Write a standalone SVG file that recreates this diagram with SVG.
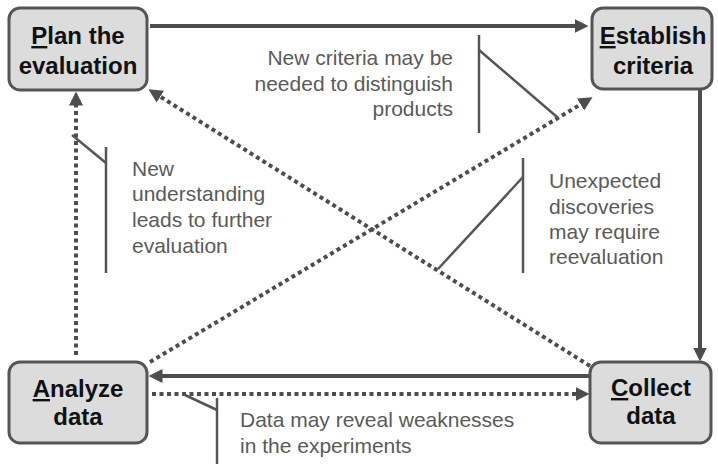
<svg xmlns="http://www.w3.org/2000/svg" width="718" height="464" viewBox="0 0 718 464">
<defs>
<style>
.box{fill:#dcdcdc;stroke:#555;stroke-width:3}
.nt{font-family:"Liberation Sans",Arial,sans-serif;font-weight:bold;font-size:24px;fill:#111;text-anchor:middle}
.u{text-decoration:underline}
.solid{stroke:#4d4d4d;stroke-width:4;fill:none}
.dot{stroke:#4d4d4d;stroke-width:4;fill:none;stroke-dasharray:4 3.5}
.co{stroke:#555;stroke-width:2.5;fill:none}
.ct{font-family:"Liberation Sans",Arial,sans-serif;font-size:21px;fill:#5a5a5a}
</style>
<marker id="ah" viewBox="0 0 14 14" refX="0.5" refY="7" markerWidth="14" markerHeight="14" markerUnits="userSpaceOnUse" orient="auto">
<path d="M0,0 L14,7 L0,14 z" fill="#4d4d4d"/>
</marker>
</defs>
<rect width="718" height="464" fill="#fff"/>
<g id="connectors">
<line class="solid" x1="150" y1="26" x2="575" y2="26" marker-end="url(#ah)"/>
<line class="solid" x1="700" y1="89" x2="700" y2="348" marker-end="url(#ah)"/>
<line class="solid" x1="590" y1="376" x2="162" y2="376" marker-end="url(#ah)"/>
<line class="dot" x1="152" y1="394" x2="576" y2="394" marker-end="url(#ah)"/>
<line class="dot" x1="76" y1="355" x2="76" y2="105" marker-end="url(#ah)"/>
<line class="dot" x1="590" y1="366" x2="159.9" y2="96.4" marker-end="url(#ah)"/>
<line class="dot" x1="150" y1="362" x2="581" y2="104.2" marker-end="url(#ah)"/>
</g>
<g id="plan">
<rect class="box" x="9" y="8" width="138" height="82" rx="11"/>
<text class="nt" x="78" y="44"><tspan class="u">P</tspan>lan the</text>
<text class="nt" x="78" y="74">evaluation</text>
</g>
<g id="establish">
<rect class="box" x="592" y="8" width="120" height="81" rx="11"/>
<text class="nt" x="653" y="44"><tspan class="u">E</tspan>stablish</text>
<text class="nt" x="653" y="74">criteria</text>
</g>
<g id="analyze">
<rect class="box" x="9" y="362" width="138" height="81" rx="11"/>
<text class="nt" x="78" y="397"><tspan class="u">A</tspan>nalyze</text>
<text class="nt" x="78" y="425">data</text>
</g>
<g id="collect">
<rect class="box" x="590" y="362" width="121" height="81" rx="11"/>
<text class="nt" x="651" y="396"><tspan class="u">C</tspan>ollect</text>
<text class="nt" x="651" y="424">data</text>
</g>
<g id="note-criteria">
<line class="co" x1="479" y1="35" x2="479" y2="133"/>
<line class="co" x1="479" y1="50" x2="557" y2="117"/>
<text class="ct" text-anchor="end" x="453" y="65">New criteria may be</text>
<text class="ct" text-anchor="end" x="453" y="91">needed to distinguish</text>
<text class="ct" text-anchor="end" x="453" y="116">products</text>
</g>
<g id="note-understanding">
<line class="co" x1="106" y1="147" x2="106" y2="273"/>
<line class="co" x1="72" y1="135" x2="106" y2="163"/>
<text class="ct" x="132" y="176">New</text>
<text class="ct" x="132" y="201">understanding</text>
<text class="ct" x="132" y="227">leads to further</text>
<text class="ct" x="132" y="253">evaluation</text>
</g>
<g id="note-discoveries">
<line class="co" x1="523" y1="158" x2="523" y2="273"/>
<line class="co" x1="438" y1="269" x2="523" y2="177"/>
<text class="ct" x="549" y="188">Unexpected</text>
<text class="ct" x="549" y="214">discoveries</text>
<text class="ct" x="549" y="239">may require</text>
<text class="ct" x="549" y="264">reevaluation</text>
</g>
<g id="note-data">
<line class="co" x1="217" y1="398" x2="217" y2="464"/>
<line class="co" x1="185" y1="395" x2="217" y2="410"/>
<text class="ct" x="240" y="427">Data may reveal weaknesses</text>
<text class="ct" x="240" y="453">in the experiments</text>
</g>
</svg>
